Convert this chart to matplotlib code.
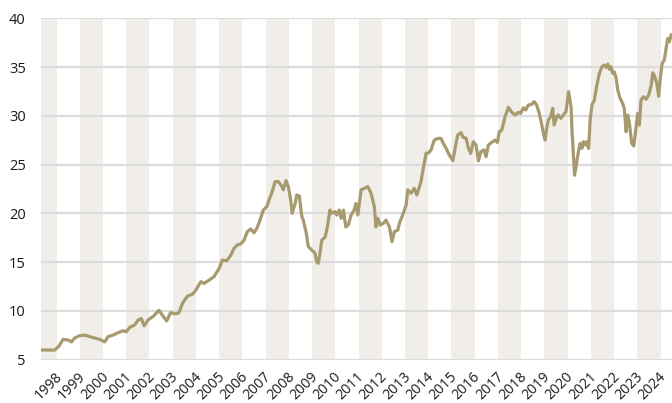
import matplotlib
matplotlib.use("Agg")
import matplotlib.pyplot as plt

plt.rcParams['font.family'] = ['Open Sans', 'DejaVu Sans']

# time (decimal years) and values
years = [
    1997.33, 1997.92, 1998.11, 1998.28, 1998.50, 1998.64, 1998.78, 1999.00, 1999.21, 1999.43,
    1999.64, 1999.86, 2000.07, 2000.22, 2000.43, 2000.65, 2000.86, 2001.00, 2001.15, 2001.37,
    2001.51, 2001.65, 2001.77, 2001.94, 2002.17, 2002.41, 2002.55, 2002.74, 2002.91, 2003.12,
    2003.27, 2003.42, 2003.63, 2003.85, 2003.99, 2004.21, 2004.35, 2004.57, 2004.78, 2005.00,
    2005.14, 2005.33, 2005.50, 2005.64, 2005.78, 2005.93, 2006.07, 2006.21, 2006.36, 2006.50,
    2006.62, 2006.76, 2006.90, 2007.05, 2007.16, 2007.26, 2007.41, 2007.55, 2007.69, 2007.76,
    2007.88, 2007.98, 2008.08, 2008.14, 2008.27, 2008.34, 2008.45, 2008.56, 2008.62, 2008.74,
    2008.84, 2008.99, 2009.13, 2009.20, 2009.27, 2009.34, 2009.42, 2009.56, 2009.66, 2009.77,
    2009.85, 2009.99, 2010.06, 2010.17, 2010.25, 2010.35, 2010.45, 2010.56, 2010.68, 2010.81,
    2010.89, 2010.97, 2011.11, 2011.25, 2011.40, 2011.54, 2011.68, 2011.75, 2011.83, 2011.93,
    2012.07, 2012.18, 2012.33, 2012.44, 2012.54, 2012.69, 2012.76, 2012.90, 2013.05, 2013.12,
    2013.26, 2013.40, 2013.51, 2013.62, 2013.69, 2013.76, 2013.91, 2014.02, 2014.12, 2014.26,
    2014.41, 2014.55, 2014.65, 2014.77, 2014.91, 2015.06, 2015.17, 2015.27, 2015.41, 2015.50,
    2015.63, 2015.73, 2015.83, 2015.94, 2016.06, 2016.16, 2016.26, 2016.40, 2016.49, 2016.59,
    2016.73, 2016.88, 2016.98, 2017.06, 2017.17, 2017.31, 2017.45, 2017.60, 2017.74, 2017.88,
    2017.98, 2018.10, 2018.20, 2018.31, 2018.46, 2018.56, 2018.67, 2018.78, 2018.89, 2018.96,
    2019.03, 2019.10, 2019.17, 2019.27, 2019.36, 2019.42, 2019.53, 2019.60, 2019.71, 2019.82,
    2019.93, 2020.04, 2020.15, 2020.19, 2020.30, 2020.48, 2020.54, 2020.62, 2020.68, 2020.76,
    2020.82, 2020.91, 2020.97, 2021.05, 2021.15, 2021.25, 2021.37, 2021.48, 2021.58, 2021.66,
    2021.73, 2021.80, 2021.87, 2021.94, 2022.01, 2022.09, 2022.16, 2022.26, 2022.37, 2022.44,
    2022.52, 2022.59, 2022.66, 2022.76, 2022.85, 2022.95, 2023.02, 2023.09, 2023.16, 2023.26,
    2023.38, 2023.49, 2023.59, 2023.67, 2023.73, 2023.84, 2023.92, 2023.99, 2024.07, 2024.16,
    2024.24, 2024.31, 2024.38, 2024.46,
]
values = [
    5.97, 5.97, 6.40, 7.07, 7.00, 6.80, 7.20, 7.45, 7.50, 7.35,
    7.20, 7.07, 6.80, 7.35, 7.50, 7.75, 7.95, 7.85, 8.30, 8.55,
    9.05, 9.20, 8.45, 9.05, 9.45, 10.05, 9.56, 8.95, 9.80, 9.67,
    9.80, 10.76, 11.50, 11.70, 12.10, 12.98, 12.80, 13.15, 13.50, 14.35,
    15.20, 15.13, 15.70, 16.40, 16.75, 16.85, 17.25, 18.10, 18.40, 18.00,
    18.45, 19.30, 20.33, 20.67, 21.43, 22.05, 23.24, 23.24, 22.80, 22.40,
    23.35, 22.70, 21.36, 20.00, 21.00, 21.87, 21.77, 19.65, 19.30, 18.10,
    16.57, 16.23, 15.90, 15.00, 14.87, 15.90, 17.26, 17.53, 18.60, 20.33,
    20.00, 20.16, 19.82, 20.33, 19.48, 20.33, 18.60, 18.80, 19.82, 20.33,
    21.00, 19.82, 22.40, 22.56, 22.73, 22.05, 20.67, 18.60, 19.48, 18.80,
    18.97, 19.30, 18.60, 17.08, 18.10, 18.28, 18.97, 19.82, 20.85, 22.40,
    22.05, 22.56, 21.87, 22.73, 23.24, 24.26, 26.15, 26.20, 26.50, 27.50,
    27.68, 27.68, 27.17, 26.66, 25.97, 25.40, 26.83, 28.03, 28.27, 27.80,
    27.70, 26.66, 26.15, 27.34, 27.00, 25.36, 26.30, 26.50, 25.80, 27.00,
    27.27, 27.50, 27.27, 28.37, 28.55, 29.90, 30.86, 30.35, 30.08, 30.35,
    30.25, 30.82, 30.60, 31.10, 31.18, 31.45, 31.10, 30.25, 29.05, 28.20,
    27.50, 28.70, 29.56, 29.90, 30.77, 29.05, 29.90, 30.08, 29.74, 30.08,
    30.42, 32.47, 30.93, 28.50, 23.90, 26.50, 27.17, 26.66, 27.34, 27.00,
    27.34, 26.66, 29.56, 31.10, 31.60, 33.00, 34.36, 35.03, 35.20, 34.97,
    35.30, 34.77, 35.03, 34.36, 34.50, 33.84, 32.64, 31.80, 31.28, 30.77,
    28.37, 30.08, 29.23, 27.17, 26.90, 28.88, 30.25, 29.05, 31.60, 31.96,
    31.70, 32.13, 33.00, 34.40, 34.17, 33.33, 32.00, 33.84, 35.38, 35.70,
    36.90, 37.94, 37.60, 38.30,
]
tick_years = list(range(1998, 2025))
y_ticks = [5, 10, 15, 20, 25, 30, 35, 40]

line_color = '#a69a6e'
band_color = '#f1eeea'
grid_color = '#dcdcdc'

fig = plt.figure(figsize=(6.72, 4.03), dpi=100)
ax = fig.add_axes([41 / 672, (403 - 359.5) / 403, 1 - 41 / 672, (359.5 - 18.3) / 403])

x_min, x_max = 1997.33, 2024.495
for y in range(1997, 2025, 2):
    ax.axvspan(y, y + 1, color=band_color, lw=0, zorder=0)

ax.set_ylim(5, 40)
ax.set_xlim(x_min, x_max)
ax.set_yticks(y_ticks)
ax.yaxis.grid(True, color=grid_color, lw=1.6, zorder=1)
ax.set_axisbelow(True)

ax.plot(years, values, color=line_color, lw=2.3, zorder=3, solid_joinstyle='round')

ax.set_xticks([y + 0.15 for y in tick_years])
ax.set_xticklabels([str(y) for y in tick_years], rotation=45, ha='right', va='center',
                   rotation_mode='anchor', fontsize=10.2, color='#1a1a1a')
ax.tick_params(axis='x', length=0, pad=11)
ax.tick_params(axis='y', length=0, pad=11, labelsize=10.5, labelcolor='#1a1a1a')

for s in ax.spines.values():
    s.set_visible(False)

fig.savefig('out.png', dpi=100)
